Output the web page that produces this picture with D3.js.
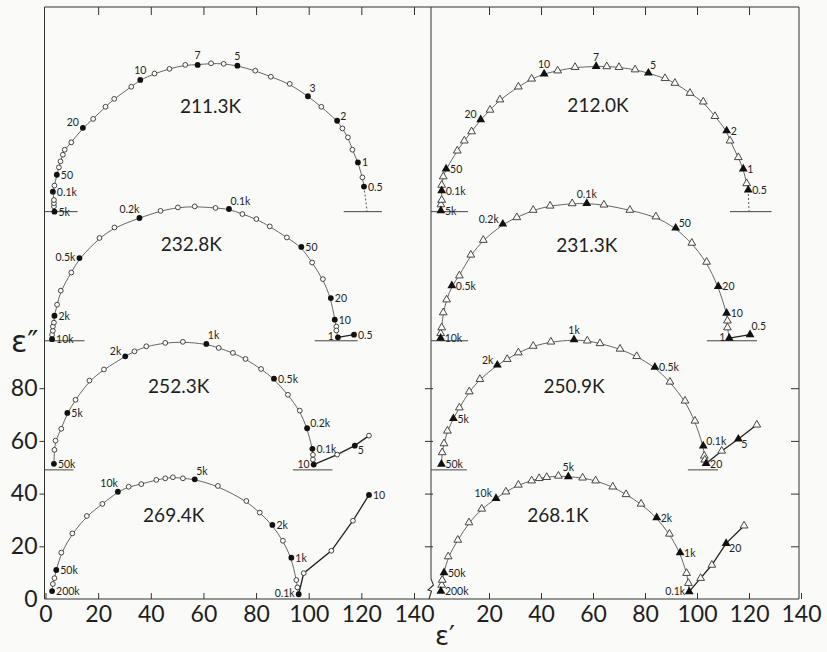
<!DOCTYPE html>
<html>
<head>
<meta charset="utf-8">
<script src="https://cdn.jsdelivr.net/npm/d3@7"></script>
<style>
  html, body { margin: 0; padding: 0; background: #fafaf8; }
  svg { display: block; }
</style>
</head>
<body>
<svg id="chart" width="827" height="652"></svg>
<script>
// ---------- Cole–Cole data: [ε', ε'' above the curve's own baseline, frequency label] ----------
// Frequencies in Hz; "k" = kHz. Unlabelled points are intermediate measurements.

const temperaturesLeft  = ["211.3K", "232.8K", "252.3K", "269.4K"];
const temperaturesRight = ["212.0K", "231.3K", "250.9K", "268.1K"];
const baselineOffsets   = [147, 98, 49, 0];   // vertical shift of each curve (ε'' units)
const xTickValues = [0, 20, 40, 60, 80, 100, 120, 140];
const yTickValues = [0, 20, 40, 60, 80];

const arc2113 = [[3.4,0.0,"5k"],[3.2,2.0],[3.2,3.2],[3.2,4.4],[2.8,7.6,"0.1k"],[3.4,9.9],[4.3,14.0,"50"],
  [5.1,16.8],[5.7,19.1],[6.6,21.6],[7.3,23.5],[9.8,26.3],[14.2,31.8,"20"],[18.1,35.2],[22.8,39.8],[26.1,42.8],
  [32.6,47.4],[36.0,50.0,"10"],[41.4,52.4],[47.1,54.2],[53.1,55.7],[57.8,55.7,"7"],[62.9,56.3],[67.7,56.1],
  [72.9,55.4,"5"],[79.7,53.5],[85.6,51.2],[92.8,48.5],[99.7,43.8,"3"],[104.8,39.8],[110.8,34.5,"2"],[112.8,31.6],
  [114.9,28.2],[116.6,23.5],[118.7,18.7,"1"],[120.4,13.0],[121.0,9.5,"0.5"]];
const staticEps2113 = 122.2;

const arc2328 = [[2.5,0.6,"10k"],[2.5,2.3],[2.8,3.8],[2.8,5.4],[3.2,6.9],[3.4,9.5,"2k"],[4.4,13.7],[5.8,19.0],
  [9.8,25.9],[12.9,31.4,"0.5k"],[20.5,39.0],[26.2,43.0],[35.7,46.6,"0.2k"],[43.7,49.3],[50.3,50.6],[56.7,51.0],
  [64.6,50.4],[69.7,50.0,"0.1k"],[74.8,48.1],[80.1,46.2],[85.2,43.4],[91.7,39.2],[97.2,35.6,"50"],[101.3,29.7],
  [105.4,23.4],[108.4,16.2,"20"],[109.9,8.0,"10"],[110.5,5.4],[110.5,3.9],[111.1,1.3,"1"]];
const spur2328 = [[111.1,1.3],[117.2,2.3,"0.5"]];

const arc2523 = [[3.2,2.3,"50k"],[3.4,7.6],[3.8,11.1],[6.0,15.6],[8.3,21.6,"5k"],[11.4,26.6],[16.7,33.9],
  [22.2,38.1],[30.3,43.1,"2k"],[33.8,45.0],[38.3,46.9],[45.5,48.2],[52.2,48.6],[61.1,47.8,"1k"],[65.8,46.3],
  [71.2,44.4],[76.0,42.1],[81.9,38.3],[86.8,34.6,"0.5k"],[92.1,28.5],[96.6,22.5],[99.4,15.8,"0.2k"],
  [101.4,8.0,"0.1k"],[101.6,5.7],[101.6,3.9],[101.9,2.0,"10"]];
const spur2523 = [[101.9,2.0],[110.8,5.8],[117.5,9.2,"5"],[122.9,13.0]];

const arc2694 = [[2.5,3.0,"200k"],[2.8,5.7],[3.4,7.9],[4.1,11.0,"50k"],[6.0,17.6],[10.2,24.9],[15.7,31.5],
  [21.6,36.1],[27.5,40.7,"10k"],[31.6,42.6],[36.4,43.6],[42.1,45.2],[45.5,45.8],[48.4,46.2],[52.2,45.8],
  [56.7,45.4,"5k"],[65.5,42.9],[76.3,37.2],[81.4,32.8],[86.2,28.1,"2k"],[90.2,22.1],[93.4,15.7,"1k"],
  [95.3,7.2],[95.7,4.4],[96.2,1.8,"0.1k"]];
const spur2694 = [[96.2,1.8],[98.1,9.8],[108.6,18.3],[116.8,29.7],[122.9,39.5,"10"]];

const arc2120 = [[1.5,0.4,"5k"],[1.5,2.7],[1.8,4.4],[1.8,8.0,"0.1k"],[1.8,10.1],[2.4,13.3],[3.5,16.2,"50"],
  [7.8,23.1],[10.5,26.9],[13.3,30.4],[16.8,34.9,"20"],[20.4,38.6],[24.2,42.5],[31.3,47.4],[36.4,50.4],
  [41.2,52.3,"10"],[46.4,53.5],[53.1,54.8],[61.2,55.1,"7"],[65.3,55.1],[70.0,54.8],[76.2,53.9],[81.3,52.6,"5"],
  [87.7,50.6],[91.5,48.8],[97.3,45.0],[102.4,41.7],[106.9,36.2],[111.4,30.7,"2"],[112.7,26.9],[115.9,20.6],
  [117.8,16.2,"1"],[119.1,10.7],[119.7,8.2,"0.5"]];
const staticEps2120 = 120.0;

const arc2313 = [[1.4,1.0,"10k"],[1.4,2.8],[1.8,5.0],[2.4,10.7],[3.7,15.6],[5.7,20.9,"0.5k"],[8.6,24.7],
  [13.0,32.6],[17.8,38.2],[25.3,44.3,"0.2k"],[30.7,46.8],[37.0,49.6],[43.5,51.2],[52.0,52.1],[57.6,52.1,"0.1k"],
  [64.2,51.6],[74.2,49.6],[84.2,47.1],[91.8,42.8,"50"],[98.0,37.1],[103.7,29.9],[108.2,20.6,"20"],
  [111.4,10.5,"10"],[111.7,7.6],[111.7,5.0],[112.4,1.0,"1"]];
const spur2313 = [[112.4,1.0],[120.4,2.3,"0.5"]];

const arc2509 = [[1.7,2.2,"50k"],[2.0,6.6],[2.7,10.0],[4.0,14.8],[6.3,19.5,"5k"],[8.6,23.6],[12.4,29.7],
  [16.5,34.4],[23.2,39.8,"2k"],[27.0,42.0],[31.3,44.5],[37.0,47.0],[43.8,48.6],[52.7,49.4,"1k"],[57.8,49.0],
  [62.7,48.0],[70.4,45.9],[76.8,43.1],[83.8,39.0,"0.5k"],[89.6,33.4],[95.4,26.2],[99.2,18.6],[102.4,9.1,"0.1k"],
  [102.8,5.3],[103.0,3.8],[103.5,2.4,"20"]];
const spur2509 = [[103.5,2.4],[109.5,7.2],[115.9,11.7,"5"],[123.0,17.1]];

const arc2681 = [[1.5,3.0,"200k"],[1.8,5.3],[2.0,7.2],[2.7,10.0,"50k"],[4.3,16.1],[8.0,22.4],[12.3,29.0],
  [17.2,34.2],[22.7,38.2,"10k"],[26.5,40.7],[31.3,43.3],[36.4,44.9],[39.3,45.8],[42.2,46.2],[46.7,46.7],
  [50.5,46.4,"5k"],[56.0,46.0],[61.0,44.9],[67.6,42.6],[72.7,39.7],[78.5,36.1],[84.5,30.9,"2k"],[89.4,24.7],
  [93.5,17.6,"1k"],[96.0,9.8],[96.7,6.0],[97.0,2.8,"0.1k"]];
const spur2681 = [[97.0,2.8],[101.4,7.9],[105.7,12.9],[111.2,21.1,"20"],[118.1,27.8]];

// short ε''=0 reference segments drawn under each shifted curve (ε' ranges)
const zeroMarks2113 = [[-0.4,12.2],[113.3,127.8]];
const zeroMarks2328 = [[-0.4,14.8],[102.3,118.6]];
const zeroMarks2523 = [[-0.4,10.6],[94.0,109.0]];
const zeroMarks2120 = [[-2.3,11.9],[112.7,128.7]];
const zeroMarks2313 = [[-2.3,11.9],[103.8,123.1]];
const zeroMarks2509 = [[-2.3,11.5],[96.5,108.1]];

// where each temperature caption sits, in [ε', ε'' above baseline]
const captionAtLeft  = [[62.7,37.6],[55.4,33.9],[50.6,29.0],[48.7,29.2]];
const captionAtRight = [[61.9,37.7],[57.6,33.5],[52.7,29.2],[46.5,29.2]];

// ---------- layout ----------
const svg = d3.select("#chart");
const FONT = "Lato, 'DejaVu Sans', sans-serif";
const INK = "#1e1e1e";

const y = d3.scaleLinear().domain([0, 80]).range([599, 388.2]);
const xLeft = d3.scaleLinear().domain([0, 140]).range([45.5, 414]);
const xRight = d3.scaleLinear().domain([0, 140]).range([437, 801]);

const frameTop = 7, frameBottom = y(0);
const frameLeft = 44.5, frameRight = 799, divider = 431;

// label placement around a marker: [dx, dy(baseline), anchor]
const PLACE = {
  e:  [4, 4, "start"],
  en: [3, -1, "start"],
  se: [3, 8.5, "start"],
  w:  [-4, 3, "end"],
  wn: [-4, -1.5, "end"],
  nw: [0, -4.5, "end"],
  n:  [0, -5.5, "middle"],
  ne: [1.5, -4.5, "start"]
};
const labelSide = {
  "211.3K": {"20":"wn","10":"n","7":"n","5":"n","3":"ne","2":"en"},
  "232.8K": {"0.5k":"w","0.2k":"nw","0.1k":"ne","1":"w"},
  "252.3K": {"2k":"wn","1k":"ne","0.2k":"en","10":"w","5":"se"},
  "269.4K": {"10k":"nw","5k":"ne","0.1k":"w"},
  "212.0K": {"20":"wn","10":"n","7":"n","5":"ne"},
  "231.3K": {"0.2k":"wn","0.1k":"n","50":"en","1":"w","0.5":"ne"},
  "250.9K": {"2k":"wn","1k":"n","0.1k":"en","5":"se"},
  "268.1K": {"10k":"wn","5k":"n","0.1k":"w","20":"se"}
};

const panels = [
  { x: xLeft, shape: "circle", curves: [
    { temp: temperaturesLeft[0], offset: baselineOffsets[0], arc: arc2113, drop: staticEps2113, zero: zeroMarks2113, at: captionAtLeft[0] },
    { temp: temperaturesLeft[1], offset: baselineOffsets[1], arc: arc2328, spur: spur2328, zero: zeroMarks2328, at: captionAtLeft[1] },
    { temp: temperaturesLeft[2], offset: baselineOffsets[2], arc: arc2523, spur: spur2523, zero: zeroMarks2523, at: captionAtLeft[2] },
    { temp: temperaturesLeft[3], offset: baselineOffsets[3], arc: arc2694, spur: spur2694, zero: [], at: captionAtLeft[3] }
  ]},
  { x: xRight, shape: "triangle", curves: [
    { temp: temperaturesRight[0], offset: baselineOffsets[0], arc: arc2120, drop: staticEps2120, zero: zeroMarks2120, at: captionAtRight[0] },
    { temp: temperaturesRight[1], offset: baselineOffsets[1], arc: arc2313, spur: spur2313, zero: zeroMarks2313, at: captionAtRight[1] },
    { temp: temperaturesRight[2], offset: baselineOffsets[2], arc: arc2509, spur: spur2509, zero: zeroMarks2509, at: captionAtRight[2] },
    { temp: temperaturesRight[3], offset: baselineOffsets[3], arc: arc2681, spur: spur2681, zero: [], at: captionAtRight[3] }
  ]}
];

// ---------- frame & axes ----------
const frame = svg.append("g").attr("stroke", "#333").attr("stroke-width", 1).attr("fill", "none");
frame.append("path").attr("d",
  `M${frameLeft},${frameTop}H${frameRight}V${frameBottom}H${frameLeft}Z`);
frame.append("path").attr("d", `M${divider},${frameTop}V${frameBottom - 20}`);
// axis-break mark at the foot of the divider
frame.append("path").attr("stroke-width", 1.1)
  .attr("d", `M${divider},${frameBottom - 20}L${divider + 2.5},${frameBottom - 14}L${divider - 3},${frameBottom - 9}L${divider + 0.5},${frameBottom - 8}L${divider - 2},${frameBottom}`);

function styleAxis(g, fontSize) {
  g.select(".domain").remove();
  g.selectAll(".tick line").attr("stroke", "#333").attr("stroke-width", 1);
  g.selectAll(".tick text").attr("fill", INK).attr("font-family", FONT)
    .attr("font-size", fontSize).attr("font-weight", 400);
}

// bottom axes: ticks point inward, large labels underneath
svg.append("g").attr("transform", `translate(0,${frameBottom})`)
  .call(d3.axisBottom(xLeft).tickValues(xTickValues).tickSize(-6).tickPadding(7).tickFormat(d3.format("d")))
  .call(g => styleAxis(g, 23));
svg.append("g").attr("transform", `translate(0,${frameBottom})`)
  .call(d3.axisBottom(xRight).tickValues(xTickValues.slice(1)).tickSize(-6).tickPadding(7).tickFormat(d3.format("d")))
  .call(g => styleAxis(g, 23));

// top edge ticks, no labels
[xLeft, xRight].forEach(sc => {
  svg.append("g").attr("transform", `translate(0,${frameTop})`)
    .call(d3.axisTop(sc).tickValues(xTickValues.slice(1, -1).concat(sc === xLeft ? [140] : [])).tickSize(-8).tickFormat(""))
    .call(g => styleAxis(g, 10));
});

// left ε'' axis
svg.append("g").attr("transform", `translate(${frameLeft},0)`)
  .call(d3.axisLeft(y).tickValues(yTickValues).tickSize(5).tickPadding(2).tickFormat(d3.format("d")))
  .call(g => styleAxis(g, 23))
  .call(g => g.selectAll(".tick").filter(d => d === 0).select("line").remove());

// divider and right edge ticks
svg.append("g").attr("transform", `translate(${divider + 2},0)`)
  .call(d3.axisLeft(y).tickValues(yTickValues.slice(1)).tickSize(8).tickFormat(""))
  .call(g => styleAxis(g, 10));
svg.append("g").attr("transform", `translate(${frameRight},0)`)
  .call(d3.axisLeft(y).tickValues(yTickValues.slice(1)).tickSize(-8).tickFormat(""))
  .call(g => g.attr("transform", `translate(${frameRight - 8},0)`))
  .call(g => styleAxis(g, 10));

// axis titles
svg.append("text").attr("x", 11).attr("y", 352)
  .attr("font-family", "'DejaVu Sans', sans-serif").attr("font-size", 30).attr("fill", INK)
  .text("ε″");
svg.append("text").attr("x", 435).attr("y", 645)
  .attr("font-family", "'DejaVu Sans', sans-serif").attr("font-size", 26).attr("fill", INK)
  .text("ε′");

// ---------- curves ----------
const triOpen = d3.symbol().type(d3.symbolTriangle).size(26);
const triFull = d3.symbol().type(d3.symbolTriangle).size(34);

panels.forEach(panel => {
  const x = panel.x;
  const g = svg.append("g");
  panel.curves.forEach(c => {
    const yy = v => y(v + c.offset);
    const cg = g.append("g");

    c.zero.forEach(([a, b]) => {
      cg.append("line").attr("x1", x(a)).attr("x2", x(b)).attr("y1", yy(0)).attr("y2", yy(0))
        .attr("stroke", "#444").attr("stroke-width", 1);
    });

    const line = d3.line().x(d => x(d[0])).y(d => yy(d[1]));
    cg.append("path").datum(c.arc).attr("d", line.curve(d3.curveBasis)(c.arc))
      .attr("fill", "none").attr("stroke", "#555").attr("stroke-width", 0.9);

    if (c.spur) {
      cg.append("path").attr("d", d3.line().x(d => x(d[0])).y(d => yy(d[1])).curve(d3.curveLinear)(c.spur))
        .attr("fill", "none").attr("stroke", "#222").attr("stroke-width", 1.3);
    }
    if (c.drop !== undefined) {
      const last = c.arc[c.arc.length - 1];
      cg.append("line").attr("x1", x(last[0])).attr("y1", yy(last[1]))
        .attr("x2", x(c.drop)).attr("y2", yy(0))
        .attr("stroke", "#444").attr("stroke-width", 0.9).attr("stroke-dasharray", "2,2");
    }

    const pts = c.arc.concat(c.spur ? c.spur.slice(1) : []);
    const open = pts.filter(p => !p[2]);
    const full = pts.filter(p => p[2]);

    if (panel.shape === "circle") {
      cg.selectAll(".o").data(open).join("circle")
        .attr("cx", d => x(d[0])).attr("cy", d => yy(d[1])).attr("r", 2.4)
        .attr("fill", "#fafaf8").attr("stroke", "#333").attr("stroke-width", 0.9);
      cg.selectAll(".f").data(full).join("circle")
        .attr("cx", d => x(d[0])).attr("cy", d => yy(d[1])).attr("r", 2.9)
        .attr("fill", "#111");
    } else {
      cg.selectAll(".o").data(open).join("path")
        .attr("transform", d => `translate(${x(d[0])},${yy(d[1])})`).attr("d", triOpen)
        .attr("fill", "#fafaf8").attr("stroke", "#333").attr("stroke-width", 0.9);
      cg.selectAll(".f").data(full).join("path")
        .attr("transform", d => `translate(${x(d[0])},${yy(d[1])})`).attr("d", triFull)
        .attr("fill", "#111");
    }

    const sides = labelSide[c.temp] || {};
    cg.selectAll(".lbl").data(full).join("text")
      .each(function(d) {
        const [dx, dy, anchor] = PLACE[sides[d[2]] || "e"];
        d3.select(this).attr("x", x(d[0]) + dx).attr("y", yy(d[1]) + dy).attr("text-anchor", anchor);
      })
      .attr("font-family", FONT).attr("font-size", 10.5).attr("fill", INK)
      .text(d => d[2]);

    cg.append("text").attr("x", x(c.at[0])).attr("y", yy(c.at[1]))
      .attr("text-anchor", "middle").attr("font-family", FONT).attr("font-size", 19)
      .attr("fill", INK).text(c.temp);
  });
});
</script>
</body>
</html>
